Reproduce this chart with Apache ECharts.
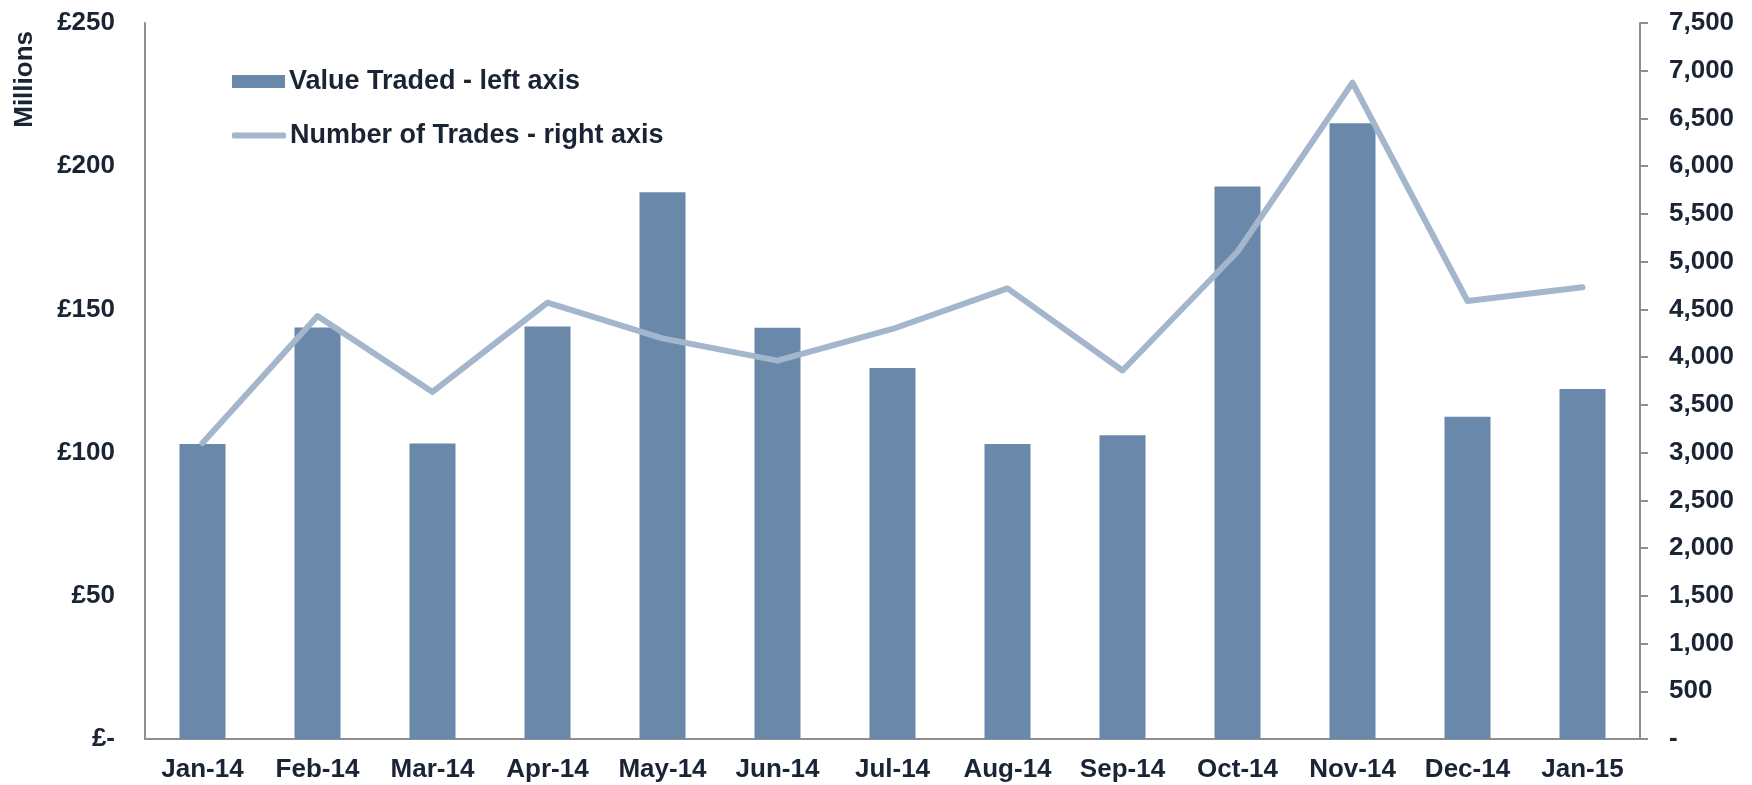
<!DOCTYPE html>
<html>
<head>
<meta charset="utf-8">
<style>
  html, body { margin: 0; padding: 0; background: #fff; }
  #chart { width: 1752px; height: 785px; }
</style>
<script src="https://cdn.jsdelivr.net/npm/echarts@6/dist/echarts.min.js"></script>
</head>
<body>
<div id="chart"></div>
<script>
const months = ["Jan-14", "Feb-14", "Mar-14", "Apr-14", "May-14", "Jun-14", "Jul-14",
  "Aug-14", "Sep-14", "Oct-14", "Nov-14", "Dec-14", "Jan-15"];
// £ millions
const valueTraded = [103.0, 143.7, 103.2, 144.0, 190.9, 143.6, 129.5, 103.0, 106.1, 192.9, 215.0, 112.5, 122.2];
const numberOfTrades = [3100, 4430, 3636, 4570, 4197, 3963, 4295, 4720, 3860, 5104, 6875, 4588, 4731];

const barName = "Value Traded - left axis";
const lineName = "Number of Trades - right axis";

const font = "'Liberation Sans', Arial, sans-serif";
const ink = "#1b2434";
const axisGrey = "#8f8f8f";
const barColor = "#6a88aa";
const lineColor = "#a3b6cc";

const labelStyle = { color: ink, fontFamily: font, fontWeight: "bold", fontSize: 26 };

const chart = echarts.init(document.getElementById("chart"));
chart.setOption({
  animation: false,
  grid: { left: 145, right: 112, top: 23, bottom: 46 },
  legend: [
    {
      data: [barName], left: 232, top: 68, padding: 0, icon: "rect",
      itemWidth: 53, itemHeight: 13, itemGap: 0,
      textStyle: { ...labelStyle, fontSize: 27, padding: [0, 0, 0, -1] }
    },
    {
      data: [lineName], left: 232, top: 122, padding: 0, icon: "roundRect",
      itemWidth: 54, itemHeight: 6, itemGap: 0,
      textStyle: { ...labelStyle, fontSize: 27, padding: [0, 0, 0, -1] }
    }
  ],
  graphic: [{
    type: "text", left: 12, top: 31, rotation: Math.PI / 2,
    style: { text: "Millions", fill: ink, font: "bold 26px " + font }
  }],
  xAxis: {
    type: "category", data: months,
    axisLine: { lineStyle: { color: axisGrey, width: 2 } },
    axisTick: { show: false },
    axisLabel: { ...labelStyle, margin: 18, interval: 0 }
  },
  yAxis: [
    {
      type: "value", min: 0, max: 250, interval: 50,
      splitLine: { show: false },
      axisLine: { show: true, lineStyle: { color: axisGrey, width: 2 } },
      axisTick: { show: false },
      axisLabel: { ...labelStyle, margin: 30, formatter: v => v === 0 ? "£-" : "£" + v }
    },
    {
      type: "value", min: 0, max: 7500, interval: 500,
      splitLine: { show: false },
      axisLine: { show: true, lineStyle: { color: axisGrey, width: 2 } },
      axisTick: { show: true, length: 8, lineStyle: { color: axisGrey, width: 2 } },
      axisLabel: {
        ...labelStyle, margin: 29,
        formatter: v => v === 0 ? "-" : v.toLocaleString("en-GB")
      }
    }
  ],
  series: [
    {
      name: barName, type: "bar", data: valueTraded, barWidth: 46,
      itemStyle: { color: barColor }
    },
    {
      name: lineName, type: "line", yAxisIndex: 1, data: numberOfTrades,
      symbol: "none", lineStyle: { color: lineColor, width: 6, cap: "round", join: "round" },
      itemStyle: { color: lineColor }
    }
  ]
});
</script>
</body>
</html>
